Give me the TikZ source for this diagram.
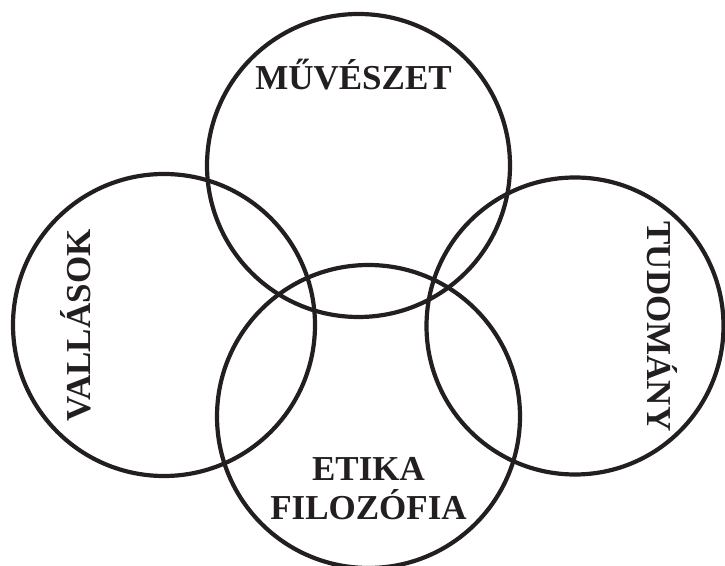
\documentclass[tikz,border=0pt]{standalone}
\usepackage{fontspec}
\setmainfont{Liberation Serif}
\usepackage{tikz}
\usetikzlibrary{positioning}
\usepackage{xcolor}
\definecolor{ink}{HTML}{231F20}

\begin{document}
\begin{tikzpicture}[x=1pt,y=1pt,font=\fontsize{35}{39}\selectfont\bfseries,
  ring/.style={draw=ink, line width=4.2pt},
  label/.style={text=ink, inner sep=0pt, anchor=base}]
\useasboundingbox (0,0) rectangle (725,565);
% circle centres
\coordinate (cm) at (358.5,399.5); \coordinate (cv) at (164,240);
\coordinate (ct) at (575,239); \coordinate (ce) at (368.5,148.5);
\draw[ring] (cm) circle (151.5); \draw[ring] (cv) circle (151);
\draw[ring] (ct) circle (148.5); \draw[ring] (ce) circle (151.5);
\node[label] (muveszet) at (353.5,475) {MŰVÉSZET};
\node[label, rotate=90] (vallasok) at (90,239.5) {VALLÁSOK};
\node[label, rotate=-90] (tudomany) at (647,238.5) {TUDOMÁNY};
\node[label] (etika) at (368.5,85) {ETIKA};
\node[label] (filozofia) at (368.5,46) {FILOZÓFIA};
\end{tikzpicture}
\end{document}
